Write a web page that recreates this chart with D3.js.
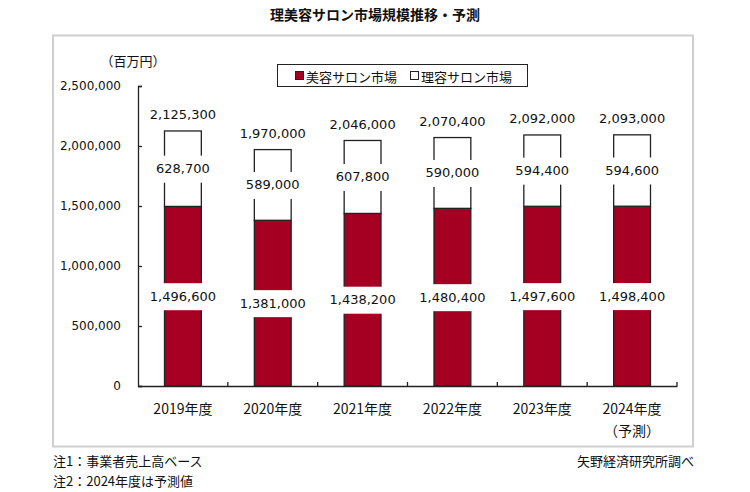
<!DOCTYPE html>
<html><head><meta charset="utf-8">
<script src="https://cdn.jsdelivr.net/npm/d3@7"></script>
<style>
html,body{margin:0;padding:0;background:#fff;}
svg{display:block;}
</style></head>
<body>
<svg id="chart" width="750" height="492"></svg>
<script>
const categories = ["2019年度","2020年度","2021年度","2022年度","2023年度","2024年度"];
const beautyValues = [1496600,1381000,1438200,1480400,1497600,1498400];
const barberValues = [628700,589000,607800,590000,594400,594600];
const totalValues = [2125300,1970000,2046000,2070400,2092000,2093000];
const yTicks = [0,500000,1000000,1500000,2000000,2500000];
const seriesNames = ["美容サロン市場","理容サロン市場"];

const numFont = "'DejaVu Sans', Verdana, sans-serif";
const jpFont = "'Noto Sans CJK JP', 'Noto Sans', sans-serif";
const red = "#A50021";
const ink = "#222";

const svg = d3.select("#chart");

// outer frame
svg.append("rect").attr("x",53).attr("y",35.5).attr("width",640).attr("height",411)
  .attr("fill","#fff").attr("stroke","#cfcfcf").attr("stroke-width",2);

// title
svg.append("text").attr("x",375).attr("y",20).attr("text-anchor","middle")
  .style("font-family",jpFont).style("font-size","14px").style("font-weight","bold")
  .attr("fill","#111").text("理美容サロン市場規模推移・予測");

const x = d3.scaleBand().domain(categories).range([138,677]).paddingInner(0.59).paddingOuter(0.295);
const y = d3.scaleLinear().domain([0,2500000]).range([386,86]);

// bars
const g = svg.append("g");
categories.forEach((c,i)=>{
  const x0 = x(c), w = x.bandwidth();
  g.append("rect").attr("x",x0).attr("y",y(beautyValues[i])).attr("width",w)
    .attr("height",y(0)-y(beautyValues[i])).attr("fill",red).attr("stroke",ink).attr("stroke-width",1.3);
  g.append("rect").attr("x",x0).attr("y",y(totalValues[i])).attr("width",w)
    .attr("height",y(beautyValues[i])-y(totalValues[i])).attr("fill","#fff").attr("stroke",ink).attr("stroke-width",1.3);
});

// axes
const yAxis = d3.axisLeft(y).tickValues(yTicks).tickSize(-4).tickPadding(17)
  .tickFormat(d3.format(","));
const ya = svg.append("g").attr("transform","translate(138,0)").call(yAxis);
ya.select(".domain").attr("stroke",ink).attr("stroke-width",1.3);
ya.selectAll(".tick line").attr("stroke",ink).attr("stroke-width",1.3);
ya.selectAll("text").style("font-family",numFont).style("font-size","12px").attr("fill","#111");

const xAxis = d3.axisBottom(x).tickSize(0).tickPadding(0).tickFormat("");
const xa = svg.append("g").attr("transform","translate(0,386)").call(xAxis);
xa.select(".domain").attr("stroke",ink).attr("stroke-width",1.3);
// category separator ticks
const step = x.step();
d3.range(1,categories.length+1).forEach(k=>{
  const xx = x.range()[0] + k*step;
  svg.append("line").attr("x1",xx).attr("x2",xx).attr("y1",386).attr("y2",382)
    .attr("stroke",ink).attr("stroke-width",1.3);
});
// category labels
categories.forEach((c,i)=>{
  svg.append("text").attr("x",x(c)+x.bandwidth()/2).attr("y",414).attr("text-anchor","middle")
    .style("font-family",jpFont).style("font-size","14px").attr("fill","#111").text(c);
});
svg.append("text").attr("x",x(categories[5])+x.bandwidth()/2).attr("y",436).attr("text-anchor","middle")
  .style("font-family",jpFont).style("font-size","14px").attr("fill","#111").text("（予測）");

// unit label
svg.append("text").attr("x",133).attr("y",66).attr("text-anchor","middle")
  .style("font-family",jpFont).style("font-size","13px").attr("fill","#111").text("（百万円）");

// data labels
function label(cx, cy, txt, boxed){
  const t = svg.append("text").attr("x",cx).attr("y",cy).attr("text-anchor","middle")
    .attr("dominant-baseline","central")
    .style("font-family",numFont).style("font-size","13px").attr("fill","#111").text(txt);
  if(boxed){
    const bb = t.node().getBBox();
    svg.insert("rect", () => t.node()).attr("x",bb.x-3).attr("y",cy-13).attr("width",bb.width+6).attr("height",27)
      .attr("fill","#fff");
  }
}
const fmt = d3.format(",");
categories.forEach((c,i)=>{
  const cx = x(c)+x.bandwidth()/2;
  label(cx, y(beautyValues[i]/2), fmt(beautyValues[i]), true);
  label(cx, y(beautyValues[i]+barberValues[i]/2), fmt(barberValues[i]), true);
  label(cx, y(totalValues[i])-16, fmt(totalValues[i]), true);
});

// legend
const lg = svg.append("g");
lg.append("rect").attr("x",277.5).attr("y",64.5).attr("width",250).attr("height",22)
  .attr("fill","#fff").attr("stroke",ink).attr("stroke-width",1);
lg.append("rect").attr("x",295.5).attr("y",71.5).attr("width",8).attr("height",8)
  .attr("fill",red).attr("stroke",ink).attr("stroke-width",1);
lg.append("text").attr("x",306).attr("y",76).attr("dominant-baseline","central")
  .style("font-family",jpFont).style("font-size","13px").attr("fill","#111").text(seriesNames[0]);
lg.append("rect").attr("x",410.5).attr("y",71.5).attr("width",8).attr("height",8)
  .attr("fill","#fff").attr("stroke",ink).attr("stroke-width",1);
lg.append("text").attr("x",421).attr("y",76).attr("dominant-baseline","central")
  .style("font-family",jpFont).style("font-size","13px").attr("fill","#111").text(seriesNames[1]);

// footnotes
svg.append("text").attr("x",53).attr("y",466)
  .style("font-family",jpFont).style("font-size","13px").attr("fill","#111").text("注1：事業者売上高ベース");
svg.append("text").attr("x",53).attr("y",486)
  .style("font-family",jpFont).style("font-size","13px").attr("fill","#111").text("注2：2024年度は予測値");
svg.append("text").attr("x",694).attr("y",466).attr("text-anchor","end")
  .style("font-family",jpFont).style("font-size","13px").attr("fill","#111").text("矢野経済研究所調べ");
</script>
</body></html>
